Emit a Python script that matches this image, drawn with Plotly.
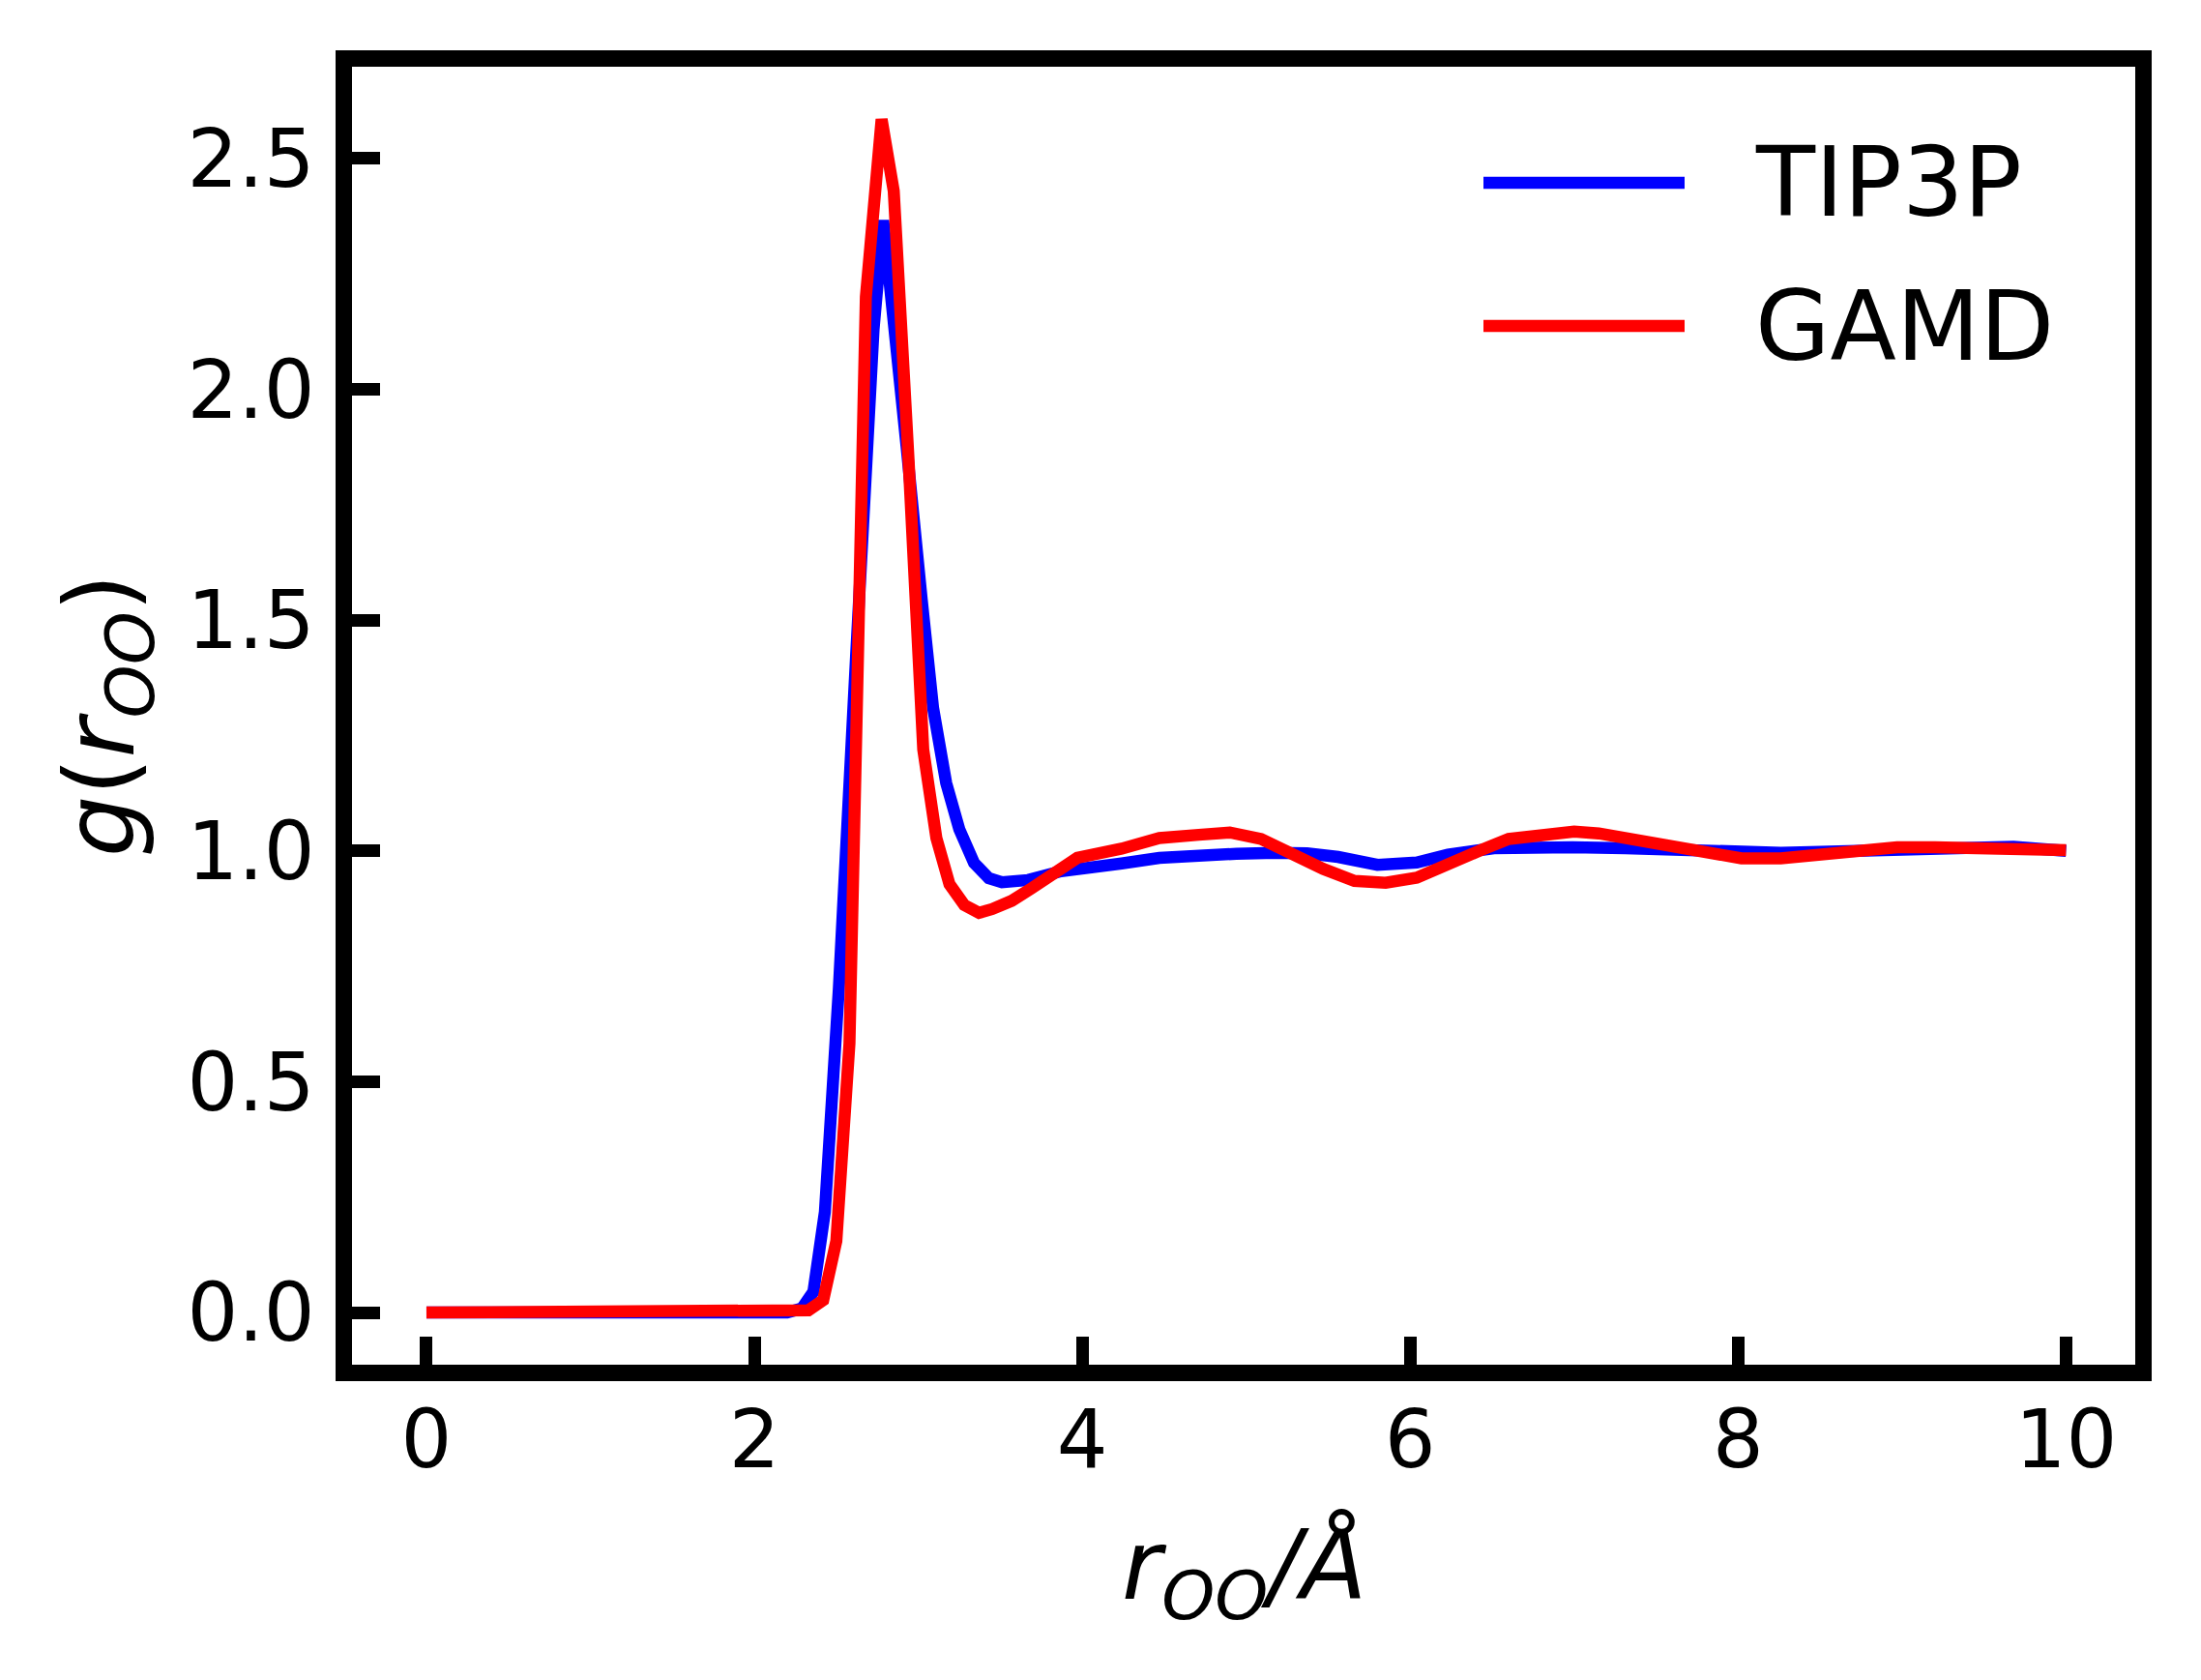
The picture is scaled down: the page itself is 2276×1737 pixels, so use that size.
import plotly.graph_objects as go

# radial distribution g(r_OO)
r_tip3p = [0.0, 2.2, 2.29, 2.36, 2.43, 2.515, 2.62, 2.727, 2.786, 2.845, 2.93,
           3.02, 3.09, 3.17, 3.25, 3.34, 3.43, 3.51, 3.67, 3.87, 4.06, 4.24,
           4.47, 4.71, 4.94, 5.18, 5.37, 5.56, 5.8, 6.04, 6.23, 6.51, 6.75,
           6.99, 7.31, 7.55, 7.78, 8.02, 8.26, 8.5, 8.73, 8.97, 9.2, 9.44,
           9.68, 10.0]
g_tip3p = [0.0, 0.0, 0.009, 0.045, 0.218, 0.70, 1.42, 2.13, 2.366, 2.184, 1.87,
           1.547, 1.31, 1.147, 1.047, 0.974, 0.941, 0.932, 0.937, 0.956, 0.968, 0.973,
           0.985, 0.991, 0.994, 0.996, 0.995, 0.987, 0.970, 0.975, 0.992, 1.006, 1.010,
           1.008, 1.006, 1.003, 1.0, 0.994, 0.996, 0.998, 0.999, 1.0, 1.002, 1.005,
           1.009, 1.0]

r_gamd = [0.0, 2.2, 2.33, 2.42, 2.5, 2.58, 2.68, 2.776, 2.85, 2.94, 3.03,
          3.11, 3.19, 3.28, 3.37, 3.45, 3.57, 3.69, 3.83, 3.97, 4.24, 4.47,
          4.71, 4.9, 5.09, 5.28, 5.47, 5.66, 5.85, 6.04, 6.23, 6.42, 6.6,
          6.84, 7.0, 7.15, 7.31, 7.55, 7.78, 8.02, 8.26, 8.5, 8.73, 8.97, 9.2,
          9.44, 9.68, 10.0]
g_gamd = [0.0, 0.0, 0.005, 0.027, 0.155, 0.583, 2.20, 2.585, 2.43, 1.85, 1.22,
          1.028, 0.928, 0.883, 0.866, 0.874, 0.892, 0.919, 0.952, 0.985, 1.005, 1.028,
          1.035, 1.040, 1.026, 0.992, 0.961, 0.935, 0.931, 0.942, 0.973, 1.0, 1.026,
          1.038, 1.042, 1.038, 1.027, 1.010, 0.998, 0.984, 0.984, 0.994, 1.003, 1.008, 1.008,
          1.005, 1.003, 1.002]

x_ticks = [0, 2, 4, 6, 8, 10]
y_ticks = [0.0, 0.5, 1.0, 1.5, 2.0, 2.5]

W, H = 2276, 1737
OFF = 8                             # default body margin of the html page
L, R, T, B = 364, 2208, 69, 1411    # inner edges of the frame in the window, px
FONT = "DejaVu Sans"


def px(x):
    return (x - L) / (R - L)


def py(y):
    return (B - y) / (B - T)


fig = go.Figure()
fig.add_trace(go.Scatter(x=r_tip3p, y=g_tip3p, mode="lines", name="TIP3P",
                         line=dict(color="#0000ff", width=12.5)))
fig.add_trace(go.Scatter(x=r_gamd, y=g_gamd, mode="lines", name="GAMD",
                         line=dict(color="#ff0000", width=12.5)))

axis_style = dict(showline=True, linecolor="black", linewidth=16.7, mirror=True,
                  ticks="inside", ticklen=29, tickwidth=12.5, tickcolor="black",
                  showgrid=False, zeroline=False,
                  tickfont=dict(family=FONT, size=83, color="black"))
fig.update_xaxes(range=[-0.454, 10.422], tickvals=x_ticks,
                 ticktext=[str(v) for v in x_ticks], ticklabelstandoff=-10, **axis_style)
fig.update_yaxes(range=[-0.113, 2.699], tickvals=y_ticks,
                 ticktext=[f"{v:.1f}" for v in y_ticks], ticklabelstandoff=5, **axis_style)

# legend drawn by hand so the line samples match the original length
for name, color, yc in [("TIP3P", "#0000ff", 189), ("GAMD", "#ff0000", 337)]:
    fig.add_shape(type="line", xref="paper", yref="paper",
                  x0=px(1534), x1=px(1742), y0=py(yc), y1=py(yc),
                  line=dict(color=color, width=12.5))
    fig.add_annotation(text=name, xref="paper", yref="paper", x=px(1813), y=py(yc),
                       xanchor="left", yanchor="middle", showarrow=False,
                       font=dict(family=FONT, size=100, color="black"))

fig.add_annotation(text="<i>r</i><sub><i>OO</i></sub><i>/Å</i>", xref="paper", yref="paper",
                   x=0.5, y=py(1625), xanchor="center", yanchor="middle", showarrow=False,
                   font=dict(family=FONT, size=100, color="black"))
fig.add_annotation(text="<i>g</i>(<i>r</i><sub><i>OO</i></sub>)", xref="paper", yref="paper",
                   x=px(110), y=0.5, xanchor="center", yanchor="middle", showarrow=False,
                   textangle=-90, font=dict(family=FONT, size=100, color="black"))

fig.update_layout(width=W - 2 * OFF, height=H - 2 * OFF, showlegend=False,
                  margin=dict(l=L - OFF, r=W - OFF - R, t=T - OFF, b=H - OFF - B),
                  plot_bgcolor="white", paper_bgcolor="white")
fig.write_html("out.html")
